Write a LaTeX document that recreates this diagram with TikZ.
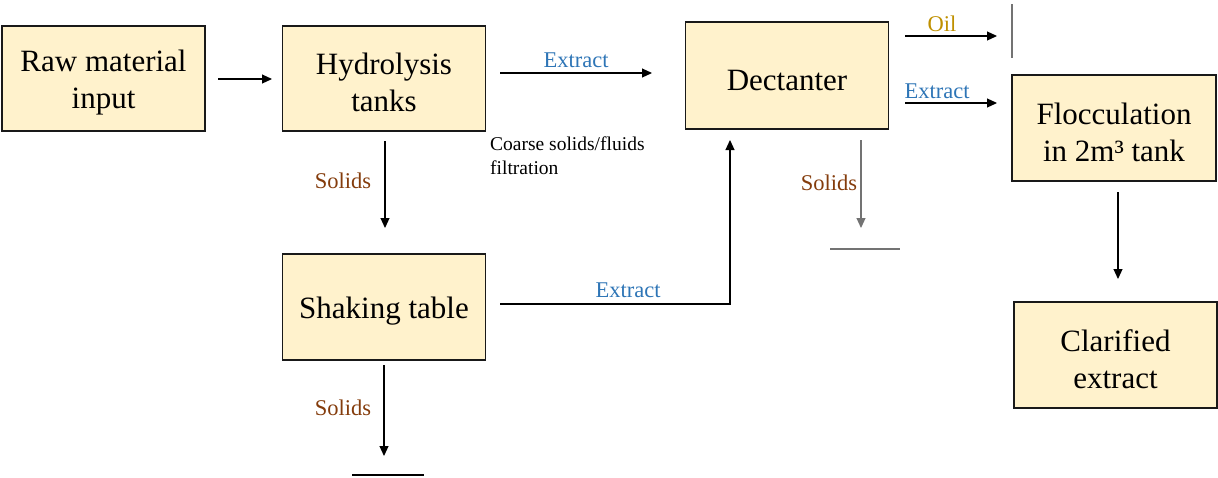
\documentclass[tikz,border=0pt]{standalone}
\usepackage{fontspec}
\setmainfont{Liberation Serif}
\usepackage{tikz}
\usetikzlibrary{arrows.meta,positioning}
\definecolor{boxfill}{HTML}{FFF2CC}
\definecolor{extractblue}{HTML}{2E75B6}
\definecolor{solidbrown}{HTML}{843C0C}
\definecolor{oilgold}{HTML}{BF9000}
\newcommand\lift{\rule{0pt}{30pt}}
\tikzstyle{stage}=[draw=black!90,line width=1.8pt,fill=boxfill,minimum width=203pt,minimum height=105pt,align=center,font=\fontsize{31}{37}\selectfont,inner sep=0pt]
\tikzstyle{flow}=[line width=1.1pt,-{Triangle[length=10pt,width=9pt]}]
\tikzstyle{lbl}=[font=\fontsize{22.5}{24}\selectfont,inner sep=0pt]

\begin{document}
\begin{tikzpicture}[x=1pt,y=-1pt]
      \useasboundingbox (0,0) rectangle (1218,477);
      % the stages
      \node[stage] (raw) at (103.5,78.5) {\lift Raw material\\input};
      \node[stage] (hydro) at (384,78.5) {\lift Hydrolysis\\tanks};
      \node[stage,minimum height=107pt] (dect) at (787,75.5) {\lift Dectanter};
      \node[stage,minimum width=204pt,minimum height=106pt] (floc) at (1114,128) {\lift Flocculation\\in 2m³ tank};
      \node[stage,minimum height=106pt] (shake) at (384,307) {\lift Shaking table};
      \node[stage,minimum height=106pt] (clar) at (1115.5,355) {\lift Clarified\\extract};
      %% free ends of the arrows
      \foreach \n/\x/\y in {a1/218/79, a2/272/79, e1/500/73, e2/652/73,
        s1/385/141, s2/385/228, t1/500/304, t2/730/304, t3/730/140,
        u1/384/365, u2/384/456, d1/861/140, d2/861/228,
        o1/905/36, o2/997/36, x1/905/103, x2/997/103, f1/1118/192, f2/1118/279}
        \coordinate (\n) at (\x,\y);
      % arrows
      \draw[flow] (a1) -- (a2);
      \draw[flow] (e1) -- (e2);
      \node[lbl,text=extractblue] (lex1) at (576,60) {Extract};
      \draw[flow] (s1) -- (s2);
      \node[lbl,text=solidbrown] (lsol1) at (343,181) {Solids};
      \draw[flow] (t1) -- (t2) -- (t3);
      \node[lbl,text=extractblue] (lex2) at (628,290) {Extract};
      \draw[flow] (u1) -- (u2);
      \node[lbl,text=solidbrown] (lsol2) at (343,408) {Solids};
      \draw[flow,black!55] (d1) -- (d2);
      \node[lbl,text=solidbrown] (lsol3) at (829,183) {Solids};
      \draw[flow] (o1) -- (o2);
      \node[lbl,text=oilgold] (loil) at (942,24) {Oil};
      \draw[flow] (x1) -- (x2);
      \node[lbl,text=extractblue] (lex3) at (937,91) {Extract};
      \draw[flow] (f1) -- (f2);
      % the bars
      \draw[line width=1.1pt] (352,475) coordinate (b1) -- (424,475) coordinate (b2);
      \draw[line width=1.1pt,black!55] (830,249) coordinate (b3) -- (900,249) coordinate (b4);
      \draw[line width=1.1pt,black!55] (1012,4) coordinate (b5) -- (1012,58) coordinate (b6);
      % note
      \node[font=\fontsize{19.5}{24}\selectfont,align=left,anchor=north west,inner sep=0pt] (note) at (490,137) {Coarse solids/fluids\\filtration};
    \end{tikzpicture}
\end{document}
